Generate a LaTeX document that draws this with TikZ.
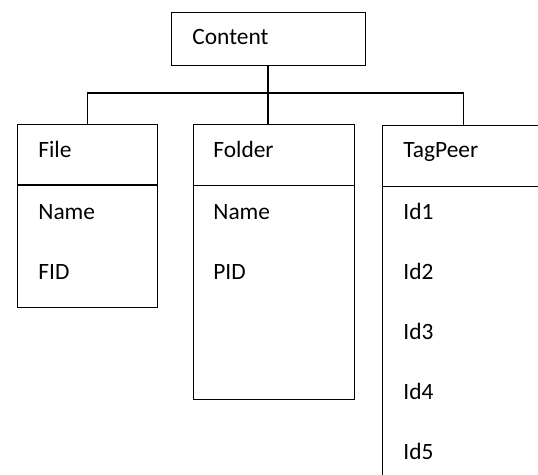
\documentclass[tikz,border=0pt]{standalone}
\usepackage{fontspec}
\setmainfont{Carlito}
\usepackage{tikz}
\usetikzlibrary{positioning,calc}
\newlength{\unitpx}
\setlength{\unitpx}{0.5pt}
\tikzstyle{a}=[anchor=north west]
\tikzstyle{box}=[a,draw,rectangle,inner sep=0pt,line width=0.65pt]
\tikzstyle{label}=[anchor=base west,inner sep=0pt,font=\fontsize{11.7pt}{14pt}\selectfont]
\tikzstyle{link}=[draw,line width=0.6pt]
\tikzstyle{divider}=[draw,line width=0.65pt]

\begin{document}
\begin{tikzpicture}[x=\unitpx,y=-\unitpx]
  \useasboundingbox (0,0) rectangle (538,475);
  \clip (0,0) rectangle (538,475);

  % root class
  \node[box,minimum width=194\unitpx,minimum height=53\unitpx] at (171,12) (content) {};
  \node[label] at (192,45) (contentname) {Content};

  % the three subclasses
  \node[box,minimum width=140\unitpx,minimum height=183\unitpx] at (17,124) (file) {};
  \node[box,minimum width=161\unitpx,minimum height=275\unitpx] at (193,124) (folder) {};
  \node[box,minimum width=162\unitpx,minimum height=380\unitpx] at (382,125) (tagpeer) {};

  \draw[divider] (file.west|-0,185) -- (file.east|-0,185);
  \draw[divider] (folder.west|-0,185.5) -- (folder.east|-0,185.5);
  \draw[divider] (tagpeer.west|-0,186.5) -- (tagpeer.east|-0,186.5);

  \node[label] at (38,158) (filename) {File};
  \node[label] at (38,220) (file1) {Name};
  \node[label] at (38,280) (file2) {FID};

  \node[label] at (213,158) (foldername) {Folder};
  \node[label] at (213,220) (folder1) {Name};
  \node[label] at (213,280) (folder2) {PID};

  \node[label] at (403,158) (tagpeername) {TagPeer};
  \foreach \i in {1,...,5}
    \node[label] at (403,160+60*\i) (tagpeer\i) {Id\i};

  % inheritance bus
  \coordinate (bus) at (268,93);
  \draw[link] (content.south-|bus) -- (bus|-folder.north);
  \draw[link] (file.north) |- (bus) -| (tagpeer.north);

\end{tikzpicture}
\end{document}
